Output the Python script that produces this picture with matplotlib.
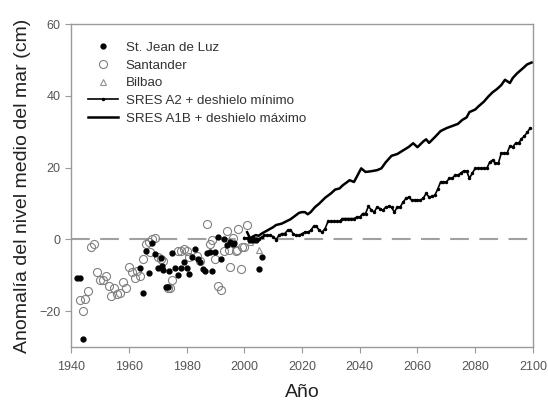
import numpy as np
import matplotlib
matplotlib.use("Agg")
import matplotlib.pyplot as plt

plt.rcParams['font.family'] = ['Liberation Sans', 'DejaVu Sans']

# observed tide gauges
sjl_year = [1942, 1943, 1944, 1964, 1965, 1966, 1967, 1968, 1969, 1970, 1971, 1971.5,
            1972, 1973, 1973.5, 1974, 1975, 1976, 1977, 1978, 1979, 1980, 1981, 1982,
            1983, 1984, 1984.7, 1985.8, 1986.4, 1987, 1988, 1989, 1990, 1991, 1992,
            1993, 1994, 1995, 1996, 1996.5, 2002, 2003, 2004, 2005, 2006]
sjl_val = [-10.9, -10.7, -27.9, -7.9, -15.0, -3.1, -9.4, -1.0, -4.0, -7.9, -5.1, -7.3,
           -8.5, -13.3, -13.3, -8.9, -3.8, -7.9, -9.8, -7.9, -6.3, -7.9, -9.6, -4.8,
           -2.6, -5.4, -6.3, -8.2, -8.7, -3.8, -3.5, -8.7, -3.5, 0.8, -5.4,
           0.2, -1.7, -0.75, -1.2, -1.0, -0.3, -0.1, -0.3, -8.2, -5.0]

san_year = [1943, 1944, 1945, 1946, 1947, 1948, 1949, 1950, 1951, 1952, 1953, 1954,
            1955, 1956, 1957, 1958, 1959, 1960, 1961, 1962, 1963, 1964, 1965, 1966,
            1967, 1967.5, 1968, 1969, 1970, 1971, 1972, 1973.7, 1974.3, 1975, 1977,
            1978, 1979, 1980, 1981, 1983.5, 1984.7, 1987, 1988, 1989, 1990, 1991,
            1992, 1993, 1994, 1995, 1996, 1997, 1998, 1999, 2000, 2001, 1997.6,
            1994.7, 1999.1]
san_val = [-16.9, -19.9, -16.6, -14.3, -2.1, -1.4, -9.0, -11.3, -11.3, -10.3, -13.1, -15.9,
           -13.5, -15.2, -15.0, -11.9, -13.5, -7.6, -9.0, -10.7, -8.7, -10.3, -5.4, -1.2,
           -0.75, -3.5, 0.2, 0.5, -4.8, -5.4, -5.9, -13.5, -13.5, -11.3, -3.1,
           -3.1, -2.6, -3.1, -4.8, -4.5, -5.9, 4.4, -1.2, -0.1, -5.4, -12.9,
           -14.1, -3.3, 2.3, -7.6, 0.5, -3.1, 3.0, -8.2, -2.0, 3.9, -3.0,
           -2.9, -2.1]

bil_year = [2002, 2003, 2005]
bil_val = [-0.6, 0.4, -3.0]

# scenarios
a2_year = list(range(2000, 2100))
a2_val = [0.5, 0.3, 0.2, 0.5, 0.2, 0.2, 0.6, 1.1, 1.1, 1.1,
          0.8, -0.1, 1.1, 1.6, 1.6, 2.5, 2.7, 1.5, 1.1, 1.1,
          1.6, 2.0, 2.0, 2.5, 3.6, 3.6, 2.5, 2.0, 3.0, 5.0,
          5.0, 5.0, 5.0, 5.0, 5.8, 5.8, 5.8, 5.8, 5.8, 6.2,
          6.2, 7.2, 7.2, 9.2, 8.2, 7.6, 9.0, 8.6, 8.1, 9.0,
          9.2, 8.9, 7.6, 9.0, 9.0, 10.4, 11.4, 11.8, 10.9, 10.9,
          10.9, 10.9, 11.5, 12.8, 11.8, 12.0, 12.3, 14.0, 16.0, 16.0,
          16.0, 17.0, 17.0, 17.9, 17.9, 18.5, 19.1, 19.1, 17.0, 18.5,
          19.8, 19.8, 19.8, 19.8, 19.8, 21.5, 22.1, 21.2, 21.2, 24.0,
          24.0, 24.0, 26.0, 25.8, 26.8, 26.8, 28.0, 28.8, 29.8, 31.0]

a1b_year = [2001, 2002, 2003, 2004, 2005, 2006, 2008, 2010, 2011, 2013, 2014, 2016,
            2018, 2019, 2020, 2021, 2022, 2023, 2024.5, 2026, 2028, 2030, 2031.5,
            2033, 2034, 2035, 2036.5, 2038, 2039, 2040.5, 2042, 2044, 2046, 2047.5,
            2049, 2051, 2053, 2055, 2057, 2058.5, 2060, 2062, 2063, 2064, 2066, 2068,
            2070, 2072, 2074, 2075.5, 2077, 2078, 2080, 2081, 2083, 2084.5, 2086,
            2087.5, 2089, 2090.3, 2092, 2093, 2094.5, 2096.5, 2098, 2099.5]
a1b_val = [2.0, 0.3, 0.8, 1.2, 1.0, 1.6, 2.5, 3.4, 4.0, 4.4, 4.8, 5.6,
           6.8, 7.4, 7.6, 7.6, 7.0, 7.6, 9.0, 10.0, 11.6, 12.8, 13.9,
           14.2, 15.0, 15.6, 16.5, 16.0, 17.5, 19.8, 18.8, 19.0, 19.3, 19.8,
           21.5, 23.3, 23.8, 24.8, 25.8, 26.8, 25.7, 27.3, 27.9, 26.9, 28.5, 30.2,
           31.0, 31.6, 32.2, 33.3, 34.0, 35.5, 36.2, 37.0, 38.4, 39.8, 41.0,
           41.9, 43.0, 44.5, 43.6, 45.0, 46.3, 47.7, 48.8, 49.3]

fig = plt.figure(figsize=(5.48, 4.03), dpi=100)
ax = fig.add_axes([0.1296, 0.139, 0.843, 0.801])

ax.axhline(0, color="#a0a0a0", lw=1.5, dashes=(9, 5), zorder=1)

ax.plot(sjl_year, sjl_val, "o", ms=3.5, color="k", mec="k", ls="none",
        label="St. Jean de Luz", zorder=3)
ax.plot(san_year, san_val, "o", ms=5.8, mfc="none", mec="#808080", mew=0.8,
        ls="none", label="Santander", zorder=2)
ax.plot(bil_year, bil_val, "^", ms=4, mfc="none", mec="#909090", mew=0.8,
        ls="none", label="Bilbao", zorder=2)
ax.plot(a2_year, a2_val, "-", marker=".", ms=3, color="k", lw=1.2,
        label="SRES A2 + deshielo mínimo", zorder=4)
ax.plot(a1b_year, a1b_val, "-", color="k", lw=1.8,
        label="SRES A1B + deshielo máximo", zorder=4)

ax.set_xlim(1940, 2100)
ax.set_ylim(-30, 60)
ax.set_xticks(np.arange(1940, 2101, 20))
ax.set_yticks(np.arange(-20, 61, 20))
ax.set_xlabel("Año", fontsize=14, color="#222222", labelpad=8)
ax.set_ylabel("Anomalía del nivel medio del mar (cm)", fontsize=14, color="#222222", labelpad=6)

for s in ax.spines.values():
    s.set_color("#9a9a9a")
    s.set_linewidth(1.0)
ax.tick_params(direction="out", length=4, color="#9a9a9a", labelsize=9,
               labelcolor="#555555", top=False, right=False)
ax.tick_params(axis="x", pad=6)

leg = ax.legend(loc="upper left", frameon=False, fontsize=9.6, handlelength=2.2,
                handletextpad=0.6, labelspacing=0.4, borderaxespad=0.9)
for t in leg.get_texts():
    t.set_color("#333333")

fig.savefig("out.png", dpi=100)
